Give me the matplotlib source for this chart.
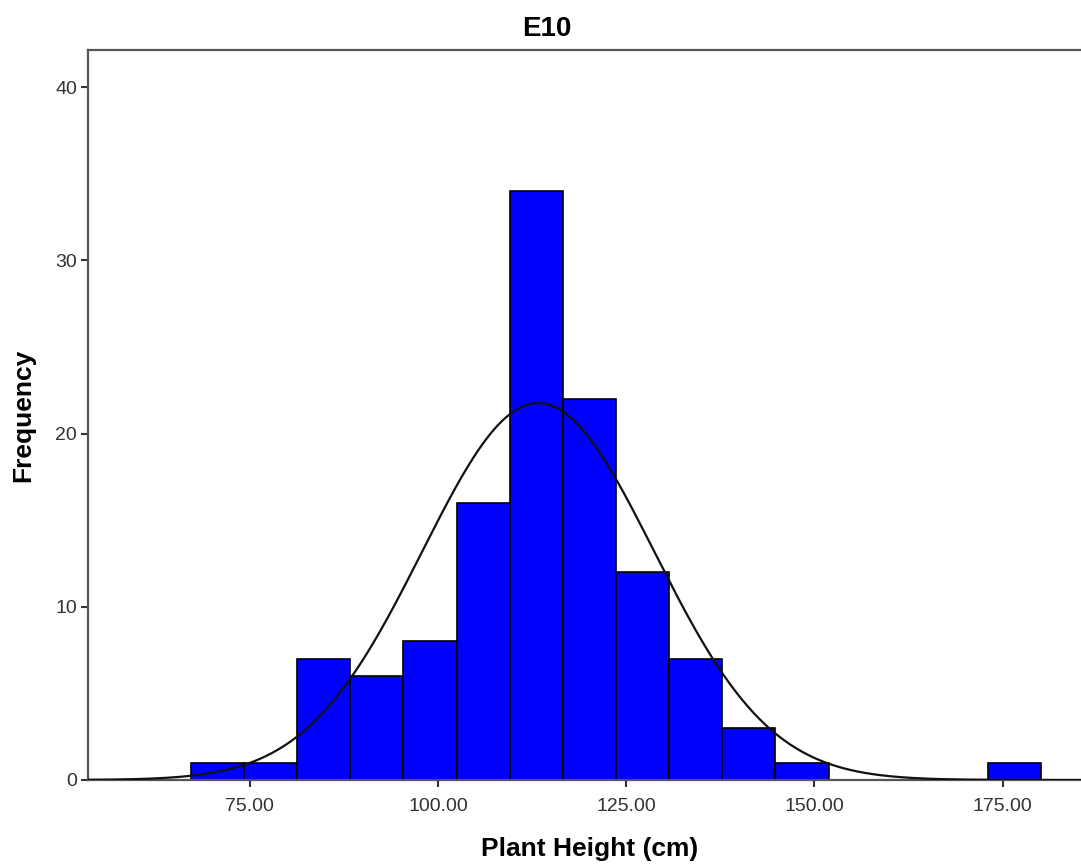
import numpy as np
import matplotlib
matplotlib.use("Agg")
import matplotlib.pyplot as plt

plt.rcParams['font.family'] = ['Liberation Sans', 'DejaVu Sans']

# Histogram bins and counts
bin_start = 67.16
bin_width = 7.06
counts = [1, 1, 7, 6, 8, 16, 34, 22, 12, 7, 3, 1, 0, 0, 0, 1]

# Normal curve parameters (SPSS overlay)
mean_h = 113.3
sd_h = 15.4
n_obs = sum(counts)

x_ticks = [75, 100, 125, 150, 175]
y_ticks = [0, 10, 20, 30, 40]

edges = bin_start + bin_width * np.arange(len(counts) + 1)

fig = plt.figure(figsize=(10.81, 8.68), dpi=100)
ax = fig.add_axes([88 / 1081, 1 - 780 / 868, 1 - 88 / 1081, (780 - 50) / 868])

ax.bar(edges[:-1], counts, width=bin_width, align='edge', color='#0000ff',
       edgecolor='black', linewidth=1.2, zorder=2)

xs = np.linspace(53.5, 186, 500)
ys = n_obs * bin_width / (sd_h * np.sqrt(2 * np.pi)) * np.exp(-0.5 * ((xs - mean_h) / sd_h) ** 2)
ax.plot(xs, ys, color='#111111', linewidth=1.6, zorder=3)

ax.set_xlim(53.5, 185.4)
ax.set_ylim(0, 42.15)
ax.set_xticks(x_ticks)
ax.set_xticklabels([f"{v:.2f}" for v in x_ticks])
ax.set_yticks(y_ticks)

for s in ['left', 'top', 'bottom', 'right']:
    ax.spines[s].set_color('#555555')
    ax.spines[s].set_linewidth(1.6)
ax.spines['right'].set_visible(False)

ax.tick_params(axis='both', direction='out', length=5, width=1.5, color='#333333',
               labelsize=14, labelcolor='#333333')
ax.tick_params(axis='x', pad=8)
ax.tick_params(axis='y', pad=3)

# the original frame runs past the right edge, so the title sits left of centre
ax.set_title("E10", fontsize=20, fontweight='bold', pad=10, x=0.462)
ax.set_xlabel("Plant Height (cm)", fontsize=19, fontweight='bold', labelpad=16, x=0.505)
ax.set_ylabel("Frequency", fontsize=19, fontweight='bold', labelpad=14)

fig.savefig("out.png", dpi=100)
